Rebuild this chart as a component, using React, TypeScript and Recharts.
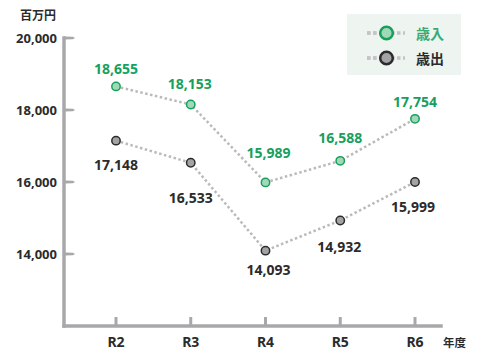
import React from 'react';
import { LineChart, Line, XAxis, YAxis, LabelList } from 'recharts';

const years = ['R2', 'R3', 'R4', 'R5', 'R6'];
const revenue = [18655, 18153, 15989, 16588, 17754];
const expenditure = [17148, 16533, 14093, 14932, 15999];
const yTicks = [14000, 16000, 18000, 20000];
const seriesNames = ['歳入', '歳出'];
const unitLabel = '百万円';
const xUnitLabel = '年度';

// label placement offsets (styling, relative to each point)
const revenueLabelDy = [-18, -21, -30, -23, -17];
const revenueLabelDx = [0, -1, 3, 0, 0];
const expLabelDy = [24, 35, 19, 26, 24];
const expLabelDx = [0, 0, 3, -1, -2];

const data = years.map((y, i) => ({ year: y, revenue: revenue[i], expenditure: expenditure[i] }));

const FONT = '"Noto Sans", "Noto Sans CJK JP", sans-serif';
const AXIS = '#a8a8ab';
const GREEN = '#17a05c';
const GREEN_FILL = '#a0d8b8';
const GRAY_FILL = '#a3a3a6';
const DARK = '#2b2b2b';
const LINE = '#bababa';

const fmt = (v: number) => v.toLocaleString('en-US');

const YTick = (props: any) => {
  const { x, y, payload } = props;
  const axisX = x + 7;
  return (
    <g>
      <path d={`M${axisX} ${y - 1.6} L${axisX + 9} ${y - 1.2} L${axisX + 11} ${y} L${axisX + 9} ${y + 1.2} L${axisX} ${y + 1.6} Z`} fill={AXIS} />
      <text x={x} y={y} textAnchor="end" dominantBaseline="central" fontFamily={FONT} fontWeight={700} fontSize={13} fill={DARK}>
        {fmt(payload.value)}
      </text>
    </g>
  );
};

const XTick = (props: any) => {
  const { x, y, payload } = props;
  const axisY = y - 15;
  return (
    <g>
      <line x1={x} x2={x} y1={axisY} y2={axisY - 9} stroke={AXIS} strokeWidth={3} />
      <text x={x} y={y} textAnchor="middle" dominantBaseline="central" fontFamily={FONT} fontWeight={700} fontSize={14} fill={DARK}>
        {payload.value}
      </text>
    </g>
  );
};

const makeLabel = (dys: number[], dxs: number[], color: string) => (props: any) => {
  const { x, y, value, index } = props;
  return (
    <text x={x + dxs[index]} y={y + dys[index]} textAnchor="middle" dominantBaseline="central" fontFamily={FONT} fontWeight={700} fontSize={14} fill={color}>
      {fmt(value)}
    </text>
  );
};

const LegendRow = ({ fill, stroke, color, label }: any) => (
  <div style={{ display: 'flex', alignItems: 'center', height: 25 }}>
    <svg width={60} height={20}>
      <line x1={20} x2={50} y1={10} y2={10} stroke="#c4c4c4" strokeWidth={3.5} strokeDasharray="3.5 2.5" />
      <line x1={20} x2={58} y1={10} y2={10} stroke="#c4c4c4" strokeWidth={3.5} strokeDasharray="3.5 2.5" />
      <circle cx={39.5} cy={10} r={6.3} fill={fill} stroke={stroke} strokeWidth={2.5} />
    </svg>
    <span style={{ fontFamily: FONT, fontWeight: 700, fontSize: 14, color, marginLeft: 9 }}>{label}</span>
  </div>
);

export default function App() {
  return (
    <div style={{ position: 'absolute', left: 0, top: 0, width: 480, height: 361, background: '#fff', fontFamily: FONT }}>
      <LineChart width={480} height={361} data={data} margin={{ top: 38, right: 39, bottom: 0, left: 0 }}>
        <XAxis
          dataKey="year"
          padding={{ left: 52, right: 26 }}
          height={35}
          tickSize={0}
          tickMargin={15}
          tickLine={false}
          axisLine={{ stroke: AXIS, strokeWidth: 3.5, strokeLinecap: 'square' }}
          tick={<XTick />}
        />
        <YAxis
          type="number"
          domain={[12000, 20000]}
          ticks={yTicks}
          width={64}
          tickSize={0}
          tickMargin={7}
          tickLine={false}
          axisLine={{ stroke: AXIS, strokeWidth: 3.5, strokeLinecap: 'square' }}
          tick={<YTick />}
          interval={0}
        />
        <Line
          dataKey="revenue"
          name={seriesNames[0]}
          stroke={LINE}
          strokeWidth={2.5}
          strokeDasharray="2.5 2.5"
          dot={{ r: 4.2, fill: GREEN_FILL, stroke: GREEN, strokeWidth: 1.5, strokeDasharray: '' }}
          isAnimationActive={false}
        >
          <LabelList dataKey="revenue" content={makeLabel(revenueLabelDy, revenueLabelDx, GREEN)} />
        </Line>
        <Line
          dataKey="expenditure"
          name={seriesNames[1]}
          stroke={LINE}
          strokeWidth={2.5}
          strokeDasharray="2.5 2.5"
          dot={{ r: 4.2, fill: GRAY_FILL, stroke: DARK, strokeWidth: 1.5, strokeDasharray: '' }}
          isAnimationActive={false}
        >
          <LabelList dataKey="expenditure" content={makeLabel(expLabelDy, expLabelDx, DARK)} />
        </Line>
      </LineChart>
      <div style={{ position: 'absolute', left: 20, top: 7, fontFamily: FONT, fontWeight: 700, fontSize: 12, color: DARK, lineHeight: '18px' }}>
        {unitLabel}
      </div>
      <div style={{ position: 'absolute', left: 443, top: 334, fontFamily: FONT, fontWeight: 700, fontSize: 11.5, color: DARK, lineHeight: '18px' }}>
        {xUnitLabel}
      </div>
      <div style={{ position: 'absolute', left: 347, top: 14, width: 114, height: 61, background: '#eef5f0', boxSizing: 'border-box', paddingTop: 6 }}>
        <LegendRow fill={GREEN_FILL} stroke={GREEN} color="#3aaa72" label={seriesNames[0]} />
        <LegendRow fill={GRAY_FILL} stroke={DARK} color={DARK} label={seriesNames[1]} />
      </div>
    </div>
  );
}
